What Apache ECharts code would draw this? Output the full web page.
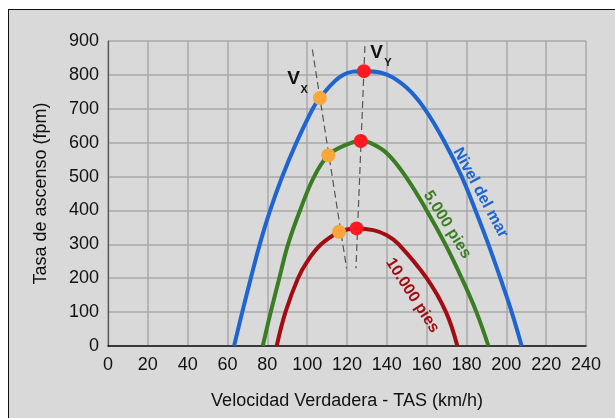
<!DOCTYPE html>
<html>
<head>
<meta charset="utf-8">
<script src="https://cdn.jsdelivr.net/npm/echarts@6/dist/echarts.min.js"></script>
<style>
  body { margin: 0; background: #fff; overflow: hidden; }
  #frame { position: absolute; left: 8px; top: 9px; width: 640px; height: 440px;
           background: #d9d9d9; border: 1.5px solid #111; }
  #main { position: absolute; left: 0; top: 0; width: 615px; height: 418px; }
</style>
</head>
<body>
<div id="frame"></div>
<div id="main"></div>
<script>
// climb rate (fpm) vs true airspeed (km/h)
var seaLevelSpeed = [63.3, 67.4, 71.7, 76.2, 81.4, 87.5, 94.6, 102.8, 106.4, 118, 128.5, 140, 150, 159, 169.2, 177.6, 184.5, 191, 197, 202.7, 207.7];
var seaLevelRate  = [0, 100, 200, 300, 400, 500, 600, 700, 732, 800, 811, 801, 762, 700, 600, 500, 400, 300, 200, 100, 0];

var ft5000Speed = [77.7, 81.7, 86, 90.4, 96.4, 103.5, 110.6, 118, 126.9, 131.5, 140, 149.5, 160, 169.4, 177.6, 185, 191];
var ft5000Rate  = [0, 100, 200, 300, 400, 500, 563, 590, 605, 600, 569, 500, 400, 300, 200, 100, 0];

var ft10000Speed = [84.7, 89.1, 95.4, 100.1, 107, 116, 120, 124.8, 133.2, 140, 146, 160, 169.7, 175.4];
var ft10000Rate  = [0, 100, 200, 250, 300, 337, 344, 347, 342, 327, 300, 200, 100, 0];

// Vx (orange) and Vy (red) points
var vxSpeed = [106.4, 110.6, 116];
var vxRate  = [732, 563, 337];
var vySpeed = [128.5, 126.9, 124.8];
var vyRate  = [811, 605, 347];

// dashed guide lines
var vxGuideSpeed = [102.6, 119.8];
var vxGuideRate  = [875, 229];
var vyGuideSpeed = [129, 124.5];
var vyGuideRate  = [885, 229];

function pairs(xs, ys) {
  return xs.map(function (x, i) { return [x, ys[i]]; });
}

var FONT = 'Liberation Sans, Arial, sans-serif';

var myChart = echarts.init(document.getElementById('main'));

var curveLine = function (name, xs, ys, color) {
  return {
    name: name,
    type: 'line',
    data: pairs(xs, ys),
    smooth: 0.4,
    showSymbol: false,
    silent: true,
    z: 3,
    lineStyle: { color: color, width: 4 }
  };
};

var guideLine = function (xs, ys) {
  return {
    type: 'line',
    data: pairs(xs, ys),
    showSymbol: false,
    silent: true,
    z: 4,
    lineStyle: { color: '#555', width: 1.2, type: [7, 4] }
  };
};

var option = {
  animation: false,
  grid: { left: 108, right: 29, top: 41, bottom: 72 },
  xAxis: {
    type: 'value',
    min: 0, max: 240, interval: 20,
    name: 'Velocidad Verdadera - TAS (km/h)',
    nameLocation: 'middle',
    nameGap: 46,
    nameTextStyle: { fontFamily: FONT, fontSize: 18, color: '#111' },
    axisLine: { lineStyle: { color: '#111', width: 1.5 } },
    axisTick: { show: false },
    axisLabel: { fontFamily: FONT, fontSize: 18, color: '#111', margin: 10 },
    splitLine: { lineStyle: { color: '#a8a8a8', width: 1.5 } }
  },
  yAxis: {
    type: 'value',
    min: 0, max: 900, interval: 100,
    name: 'Tasa de ascenso (fpm)',
    nameLocation: 'middle',
    nameGap: 58,
    nameTextStyle: { fontFamily: FONT, fontSize: 18, color: '#111' },
    axisLine: { show: true, lineStyle: { color: '#555', width: 1.2 } },
    axisTick: { show: false },
    axisLabel: { fontFamily: FONT, fontSize: 18, color: '#111', margin: 9 },
    splitLine: { lineStyle: { color: '#a8a8a8', width: 1.5 } }
  },
  series: [
    curveLine('Nivel del mar', seaLevelSpeed, seaLevelRate, '#1f65d0'),
    curveLine('5.000 pies', ft5000Speed, ft5000Rate, '#3a7d22'),
    curveLine('10.000 pies', ft10000Speed, ft10000Rate, '#a10d12'),
    guideLine(vxGuideSpeed, vxGuideRate),
    guideLine(vyGuideSpeed, vyGuideRate),
    {
      type: 'scatter',
      data: pairs(vxSpeed, vxRate),
      symbolSize: 14,
      z: 5,
      itemStyle: { color: '#f9a63a', opacity: 1 }
    },
    {
      type: 'scatter',
      data: pairs(vySpeed, vyRate),
      symbolSize: 14,
      z: 5,
      itemStyle: { color: '#ff1a22', opacity: 1 }
    }
  ]
};

myChart.setOption(option);

// text annotations anchored in data coordinates
var notes = [
  { text: 'Nivel del mar', at: [187, 452], angle: -61.7, color: '#1f65d0', size: 16 },
  { text: '5.000 pies', at: [170.3, 358], angle: -58, color: '#3a7d22', size: 16 },
  { text: '10.000 pies', at: [152.8, 149], angle: -57, color: '#a10d12', size: 16 },
  { text: 'V', at: [93.2, 790], angle: 0, color: '#111', size: 19 },
  { text: 'X', at: [98.5, 755], angle: 0, color: '#111', size: 11 },
  { text: 'V', at: [134.9, 864], angle: 0, color: '#111', size: 19 },
  { text: 'Y', at: [140.6, 834], angle: 0, color: '#111', size: 11 }
];

myChart.setOption({
  graphic: notes.map(function (n) {
    var p = myChart.convertToPixel({ gridIndex: 0 }, n.at);
    return {
      type: 'text',
      x: p[0], y: p[1],
      rotation: n.angle * Math.PI / 180,
      z: 10,
      style: {
        text: n.text,
        x: 0, y: 0,
        align: 'center',
        verticalAlign: 'middle',
        fill: n.color,
        font: 'bold ' + n.size + 'px ' + FONT
      }
    };
  })
});
</script>
</body>
</html>
